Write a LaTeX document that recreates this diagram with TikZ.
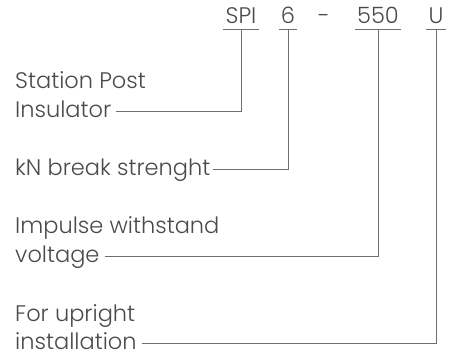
\documentclass[tikz,border=0pt]{standalone}
\usepackage{fontspec}
\setmainfont{Poppins}[UprightFont={* Light}]
\usepackage{xcolor}
\usepackage{tikz}
\definecolor{inkgray}{HTML}{4A4A4A}
\definecolor{leadgray}{HTML}{6E6E6E}
\tikzset{
    Code/.style = {anchor=base,inner xsep=2pt,inner ysep=5pt,text depth=0pt,
                   text=inkgray,font=\fontsize{22.5}{27}\selectfont},
    Desc/.style = {anchor=base west,inner xsep=0pt,inner ysep=0pt,text height=11pt,
                   text depth=0pt,text=inkgray,font=\fontsize{22.5}{27}\selectfont},
    Lead/.style = {draw=leadgray,line width=0.8pt}
}
\begin{document}
\begin{tikzpicture}[x=1pt,y=-1pt]
        \useasboundingbox (0,0) rectangle (454,353);
        % code letters
        \node[Code] (spi) at (241,24) {SPI};
        \node[Code] (kn)  at (288,24) {6};
        \node[Code] (dash) at (324,24) {-};
        \node[Code] (kv)  at (378,24) {550};
        \node[Code] (up)  at (436,24) {U};
        \foreach \X in {spi,kn,kv,up}
            {\draw[Lead] (\X.south west) -- (\X.south east);}
        % descriptions
        \node[Desc] (spi1) at (15,88)  {Station Post};
        \node[Desc] (spi2) at (15,117) {Insulator};
        \node[Desc] (kn1)  at (15,175) {kN break strenght};
        \node[Desc] (kv1)  at (15,233) {Impulse withstand};
        \node[Desc] (kv2)  at (15,262) {voltage};
        \node[Desc] (up1)  at (15,321) {For upright};
        \node[Desc] (up2)  at (15,349) {installation};
        % leaders
        \draw[Lead] ([xshift=5pt]spi2.east) -| (spi.south);
        \draw[Lead] ([xshift=2pt]kn1.east) -| (kn.south);
        \draw[Lead] ([xshift=5pt]kv2.east) -| (kv.south);
        \draw[Lead] ([xshift=5pt]up2.east) -| (up.south);
\end{tikzpicture}
\end{document}
